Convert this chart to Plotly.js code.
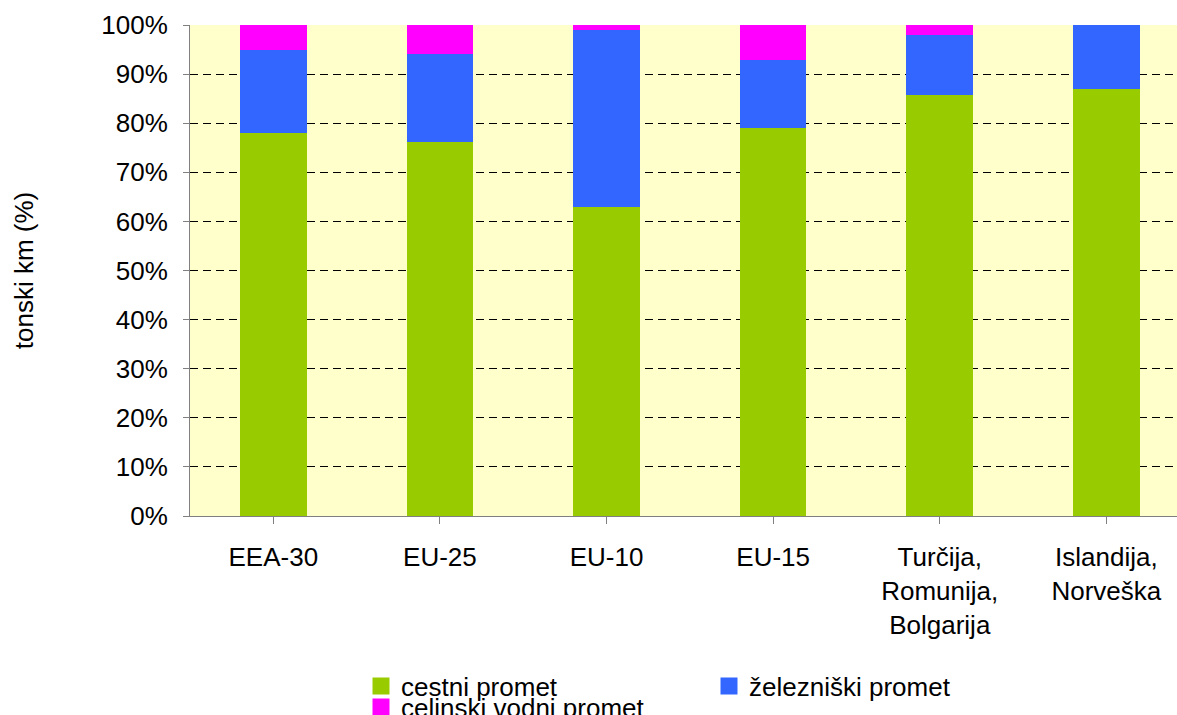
<!DOCTYPE html>
<html>
<head>
<meta charset="utf-8">
<script src="https://cdn.plot.ly/plotly-3.0.1.min.js"></script>
<style>
  html, body { margin: 0; padding: 0; background: #ffffff; }
  #chart { width: 1177px; height: 715px; }
</style>
</head>
<body>
<div id="chart"></div>
<script>
// Regions shown along the x axis
const regions = [
  'EEA-30',
  'EU-25',
  'EU-10',
  'EU-15',
  'Turčija,<br>Romunija,<br>Bolgarija',
  'Islandija,<br>Norveška'
];

// Share of freight tonne-km by mode (%)
const cestniPromet     = [78.1, 76.2, 62.9, 79.0, 85.8, 87.0];
const zelezniskiPromet = [16.8, 17.9, 36.1, 13.9, 12.2, 13.0];
const celinskiPromet   = [ 5.1,  5.9,  1.0,  7.1,  2.0,  0.0];

const seriesNames = ['cestni promet', 'železniški promet', 'celinski vodni promet'];
const seriesColors = ['#99CC00', '#3366FF', '#FF00FF'];

const yTickValues = [0, 10, 20, 30, 40, 50, 60, 70, 80, 90, 100];
const yTickLabels = yTickValues.map(v => v + '%');

const FONT = 'Arial, "Liberation Sans", sans-serif';
const FS = 26;
const catIdx = regions.map((_, i) => i);

function barTrace(i, values) {
  return {
    type: 'bar',
    name: seriesNames[i],
    x: catIdx,
    y: values,
    width: 0.4,
    marker: { color: seriesColors[i], line: { width: 0 } },
    showlegend: false,
    hoverinfo: 'name+y'
  };
}

// Legend keys: placed on a hidden overlay axis pair, outside its range, with a
// thick outline so the key squares come out larger than the default.
function legendKey(i, legend) {
  return {
    type: 'bar',
    name: seriesNames[i],
    x: [10],
    y: [1],
    xaxis: 'x2',
    yaxis: 'y2',
    marker: { color: seriesColors[i], line: { color: seriesColors[i], width: 5 } },
    legend: legend,
    showlegend: true,
    hoverinfo: 'skip'
  };
}

const data = [
  barTrace(0, cestniPromet),
  barTrace(1, zelezniskiPromet),
  barTrace(2, celinskiPromet),
  legendKey(0, 'legend'),
  legendKey(1, 'legend'),
  legendKey(2, 'legend2')
];

const legendBase = {
  orientation: 'h',
  xref: 'container', yref: 'container',
  x: 361 / 1177, xanchor: 'left',
  yanchor: 'middle',
  bgcolor: 'rgba(0,0,0,0)',
  borderwidth: 0,
  font: { family: FONT, size: FS, color: '#000000' }
};

const layout = {
  width: 1177,
  height: 715,
  barmode: 'stack',
  paper_bgcolor: '#ffffff',
  plot_bgcolor: '#FFFFCC',
  margin: { l: 190, r: 0, t: 25, b: 199, pad: 0 },
  font: { family: FONT, size: FS, color: '#000000' },
  xaxis: {
    range: [-0.5, 5.424],
    tickmode: 'array',
    tickvals: catIdx,
    ticktext: regions,
    tickson: 'boundaries',
    ticks: 'outside',
    ticklen: 7,
    tickwidth: 1,
    tickcolor: '#808080',
    showline: true,
    linecolor: '#808080',
    linewidth: 1,
    showgrid: false,
    zeroline: false,
    tickfont: { family: FONT, size: FS, color: '#000000' },
    ticklabelstandoff: 11,
    fixedrange: true
  },
  yaxis: {
    range: [0, 100],
    tickmode: 'array',
    tickvals: yTickValues,
    ticktext: yTickLabels,
    ticks: 'outside',
    ticklen: 6,
    tickwidth: 1,
    tickcolor: '#808080',
    showline: true,
    linecolor: '#808080',
    linewidth: 1,
    showgrid: true,
    gridcolor: '#000000',
    gridwidth: 1,
    griddash: '8px,5px',
    zeroline: false,
    tickfont: { family: FONT, size: FS, color: '#000000' },
    ticklabelstandoff: 10,
    title: {
      text: 'tonski km (%)',
      font: { family: FONT, size: FS, color: '#000000' },
      standoff: 60
    },
    fixedrange: true
  },
  xaxis2: { overlaying: 'x', visible: false, range: [0, 1], fixedrange: true },
  yaxis2: { overlaying: 'y', visible: false, range: [0, 1], fixedrange: true },
  legend: Object.assign({}, legendBase, {
    y: 1 - 686 / 715,
    entrywidth: 303,
    traceorder: 'normal'
  }),
  legend2: Object.assign({}, legendBase, {
    y: 1 - 707 / 715
  }),
  showlegend: true
};

Plotly.newPlot('chart', data, layout, { displayModeBar: false, staticPlot: true });
</script>
</body>
</html>
